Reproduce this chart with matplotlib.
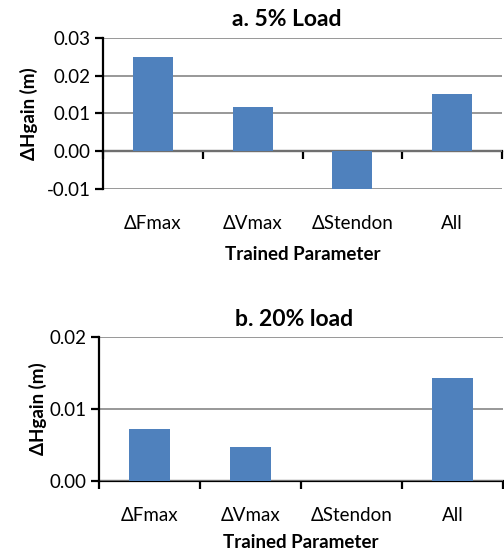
import matplotlib
matplotlib.use("Agg")
import matplotlib.pyplot as plt
import numpy as np

categories = ["ΔFmax", "ΔVmax", "ΔStendon", "All"]
load5_values = [0.0250, 0.0117, -0.0100, 0.0152]
load20_values = [0.0072, 0.0047, 0.0, 0.0143]
top_yticks = [-0.01, 0.00, 0.01, 0.02, 0.03]
bottom_yticks = [0.00, 0.01, 0.02]

FONT = ['Lato', 'DejaVu Sans']
plt.rcParams['font.family'] = FONT
FS = 13.5
TFS = 16.5
BAR = '#4F81BD'
GRID = '#868686'

fig = plt.figure(figsize=(5.04, 5.54), dpi=100)

def setup(ax, values, yticks, title, cross_frac, title_x, title_pad, xlabpad, ylabpad):
    x = np.arange(len(categories))
    ax.bar(x, values, width=0.4, color=BAR, zorder=3)
    ax.set_xlim(-0.5, len(categories) - 0.5)
    ax.set_ylim(yticks[0], yticks[-1])
    ax.set_yticks(yticks)
    ax.set_yticklabels([f"{v:.2f}" for v in yticks], fontsize=FS)
    ax.yaxis.grid(True, color=GRID, lw=1.2, zorder=0)
    ax.set_axisbelow(True)
    for s in ['top', 'right', 'bottom']:
        ax.spines[s].set_visible(False)
    ax.spines['left'].set_linewidth(1.6)
    ax.tick_params(axis='y', direction='out', length=6, width=1.6, pad=3)
    ax.set_xticks(x)
    ax.set_xticklabels(categories, fontsize=FS)
    ax.tick_params(axis='x', length=0, pad=19)
    ax.set_title(title, fontsize=TFS, fontweight='bold', pad=title_pad, x=title_x)
    ax.set_ylabel("ΔHgain (m)", fontsize=FS, fontweight='bold', labelpad=ylabpad)
    ax.set_xlabel("Trained Parameter", fontsize=FS, fontweight='bold', labelpad=xlabpad)
    sec = ax.secondary_xaxis(cross_frac)
    sec.set_xticks(np.arange(-0.5, len(categories) + 0.5, 1.0))
    sec.set_xticklabels([])
    sec.spines['bottom'].set_linewidth(1.6)
    sec.tick_params(axis='x', direction='out', length=6, width=1.6)
    return sec

ax1 = fig.add_axes([0.2044, 0.6594, 0.7916, 0.2720])
setup(ax1, load5_values, top_yticks, "a. 5% Load", 0.25, 0.461, 9, 10, 6)
ax2 = fig.add_axes([0.1964, 0.1318, 0.8016, 0.2599])
setup(ax2, load20_values, bottom_yticks, "b. 20% load", 0.0, 0.484, 8, 7, 2)

fig.savefig("out.png", dpi=100)
